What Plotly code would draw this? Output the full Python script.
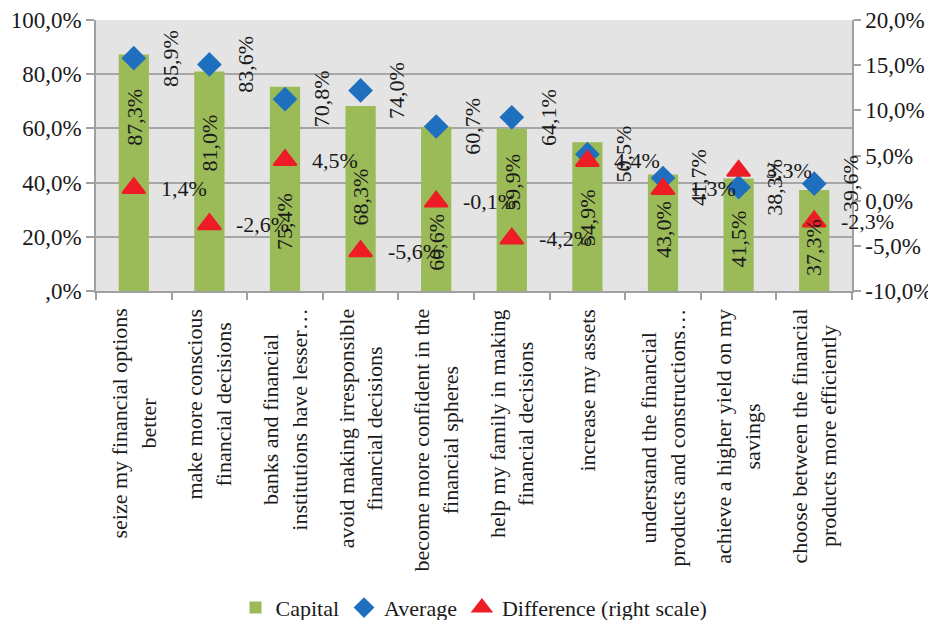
import plotly.graph_objects as go

categories = [
    "seize my financial options better",
    "make more conscious financial decisions",
    "banks and financial institutions have lesser…",
    "avoid making irresponsible financial decisions",
    "become more confident in the financial spheres",
    "help my family in making financial decisions",
    "increase my assets",
    "understand the financial products and constructions…",
    "achieve a higher yield on my savings",
    "choose between the financial products more efficiently",
]
category_labels = [
    "seize my financial options<br>better",
    "make more conscious<br>financial decisions",
    "banks and financial<br>institutions have lesser…",
    "avoid making irresponsible<br>financial decisions",
    "become more confident in the<br>financial spheres",
    "help my family in making<br>financial decisions",
    "increase my assets",
    "understand the financial<br>products and constructions…",
    "achieve a higher yield on my<br>savings",
    "choose between the financial<br>products more efficiently",
]
capital = [87.3, 81.0, 75.4, 68.3, 60.6, 59.9, 54.9, 43.0, 41.5, 37.3]
average = [85.9, 83.6, 70.8, 74.0, 60.7, 64.1, 50.5, 41.7, 38.3, 39.6]
difference = [1.4, -2.6, 4.5, -5.6, -0.1, -4.2, 4.4, 1.3, 3.3, -2.3]

left_tick_vals = [0, 20, 40, 60, 80, 100]
left_tick_labels = [",0%", "20,0%", "40,0%", "60,0%", "80,0%", "100,0%"]
right_tick_vals = [-10, -5, 0, 5, 10, 15, 20]
right_tick_labels = ["-10,0%", "-5,0%", "0,0%", "5,0%", "10,0%", "15,0%", "20,0%"]

# style: where each capital label sits inside its bar (left-axis units)
capital_label_pos = [64.2, 54.6, 25.5, 34.7, 17.9, 40.2, 27.0, 22.5, 19.2, 15.9]

FONT = "Liberation Serif, Times New Roman, serif"
TXT = "#1a1a1a"


def pct(v):
    return f"{v:.1f}".replace(".", ",") + "%"


fig = go.Figure()
fig.add_trace(go.Bar(
    x=categories, y=capital, name="Capital",
    marker=dict(color="#9BBB59", line=dict(width=0)),
))
fig.add_trace(go.Scatter(
    x=categories, y=average, name="Average", mode="markers",
    marker=dict(symbol="diamond", size=19, color="#1F6FBF"),
))
fig.add_trace(go.Scatter(
    x=categories, y=difference, name="Difference (right scale)", mode="markers",
    yaxis="y2",
    marker=dict(symbol="triangle-up", size=20, color="#EE1C25",
                line=dict(color="#EE1C25", width=2)),
))

annotations = []
for c, pos, v in zip(categories, capital_label_pos, capital):
    annotations.append(dict(x=c, y=pos, xref="x", yref="y", text=pct(v), textangle=-90,
                            showarrow=False, xanchor="center", yanchor="middle",
                            font=dict(family=FONT, size=22, color=TXT)))
for c, v in zip(categories, average):
    annotations.append(dict(x=c, y=v, xref="x", yref="y", text=pct(v), textangle=-90,
                            showarrow=False, xanchor="center", yanchor="middle", xshift=36,
                            font=dict(family=FONT, size=22, color=TXT)))
for c, v in zip(categories, difference):
    annotations.append(dict(x=c, y=v, xref="x", yref="y2", text=pct(v),
                            showarrow=False, xanchor="left", yanchor="middle", xshift=25,
                            font=dict(family=FONT, size=22, color=TXT)))
for c, lab in zip(categories, category_labels):
    annotations.append(dict(x=c, y=-0.058, xref="x", yref="paper", text=lab, textangle=-90,
                            showarrow=False, xanchor="center", yanchor="top", align="center",
                            font=dict(family=FONT, size=22, color=TXT)))

fig.update_layout(
    width=928, height=612,
    margin=dict(l=88, r=84, t=12, b=329, autoexpand=False),
    paper_bgcolor="white", plot_bgcolor="#E4E4E4",
    separators=", ",
    font=dict(family=FONT, size=22, color=TXT),
    bargap=0.6,
    showlegend=True,
    legend=dict(orientation="h", x=0.5, xanchor="center", yref="container",
                y=0.02, yanchor="middle",
                font=dict(family=FONT, size=22, color=TXT), itemwidth=30,
                bgcolor="rgba(0,0,0,0)"),
    annotations=annotations,
    xaxis=dict(type="category", categoryorder="array", categoryarray=categories,
               range=[-0.5, len(categories) - 0.5], automargin=False,
               showticklabels=False, ticks="outside", tickson="boundaries", ticklen=7,
               tickcolor="#A0A0A0", tickwidth=1.5, showline=True, linecolor="#A0A0A0",
               linewidth=1.5, showgrid=False, fixedrange=True),
    yaxis=dict(range=[0, 100], tickvals=left_tick_vals, ticktext=left_tick_labels,
               automargin=False,
               ticks="outside", ticklen=8, tickcolor="#A0A0A0", tickwidth=1.5,
               showline=True, linecolor="#A0A0A0", linewidth=1.5,
               showgrid=True, gridcolor="#A6A6A6", gridwidth=1.5, zeroline=False,
               tickfont=dict(family=FONT, size=23, color=TXT)),
    yaxis2=dict(range=[-10, 20], tickvals=right_tick_vals, ticktext=right_tick_labels,
                automargin=False,
                overlaying="y", side="right", ticks="outside", ticklen=7,
                tickcolor="#A0A0A0", tickwidth=1.5, showline=True, linecolor="#A0A0A0",
                linewidth=1.5, showgrid=False, zeroline=False,
                tickfont=dict(family=FONT, size=23, color=TXT)),
)

fig.write_html("out.html")
